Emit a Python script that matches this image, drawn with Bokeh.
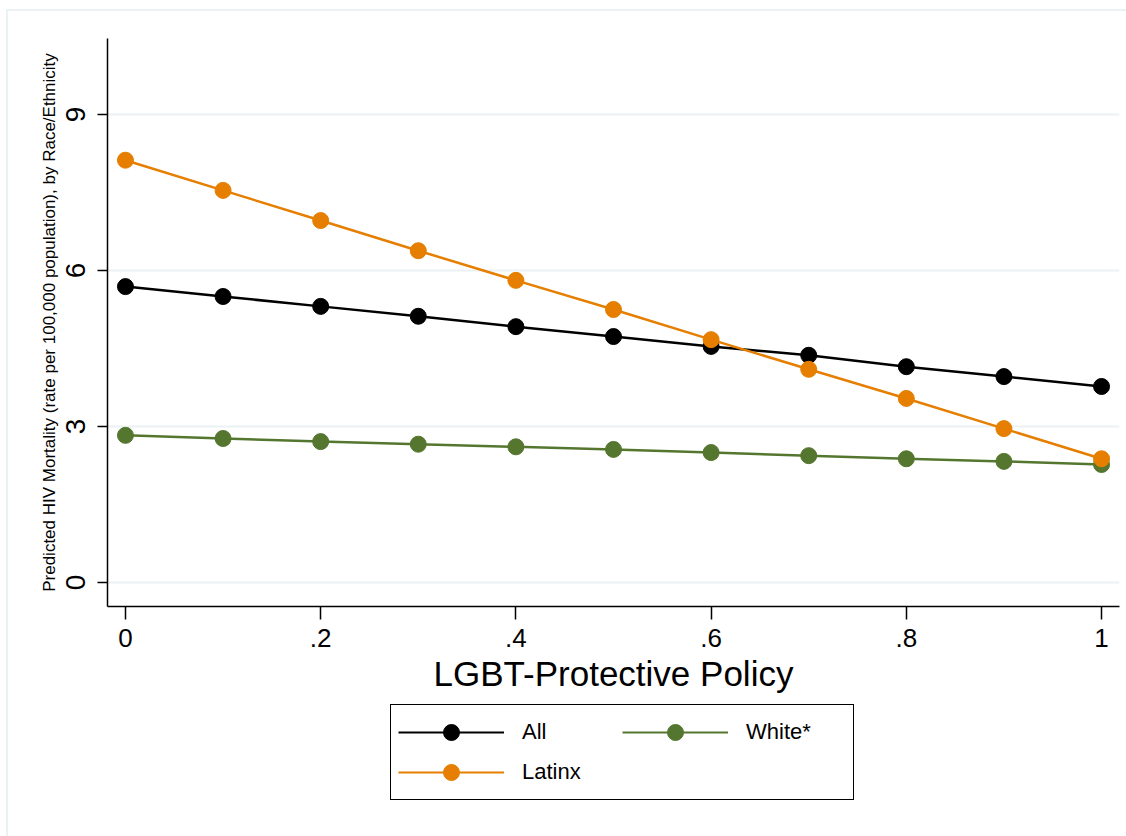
from bokeh.plotting import figure
from bokeh.layouts import column
from bokeh.models import Legend, LegendItem, FixedTicker, ColumnDataSource
from bokeh.embed import file_html
from bokeh.resources import INLINE

# ---- data ----
policy = [0.0, 0.1, 0.2, 0.3, 0.4, 0.5, 0.6, 0.7, 0.8, 0.9, 1.0]
all_vals = [5.69, 5.50, 5.31, 5.12, 4.92, 4.73, 4.54, 4.37, 4.15, 3.96, 3.77]
white_vals = [2.83, 2.77, 2.71, 2.66, 2.61, 2.56, 2.50, 2.44, 2.38, 2.33, 2.27]
latinx_vals = [8.12, 7.54, 6.96, 6.38, 5.81, 5.25, 4.67, 4.10, 3.54, 2.96, 2.38]
series_names = ["All", "White*", "Latinx"]
x_ticks = [0, 0.2, 0.4, 0.6, 0.8, 1.0]
x_tick_labels = ["0", ".2", ".4", ".6", ".8", "1"]
y_ticks = [0, 3, 6, 9]
y_tick_labels = ["0", "3", "6", "9"]
x_title = "LGBT-Protective Policy"
y_title = "Predicted HIV Mortality (rate per 100,000 population), by Race/Ethnicity"

FONT = "Liberation Sans"
colors = {"All": "#000000", "White*": "#55762f", "Latinx": "#e67e00"}
series = {"All": all_vals, "White*": white_vals, "Latinx": latinx_vals}

# ---- main plot ----
p = figure(width=1118, height=689, output_backend="svg", toolbar_location=None,
           x_range=(-0.0184, 1.0184), y_range=(-0.46, 10.46),
           min_border_left=99, min_border_top=27, min_border_right=7, min_border_bottom=94)
p.outline_line_color = None
p.background_fill_color = "white"
p.border_fill_color = "white"

p.xgrid.grid_line_color = None
p.ygrid.grid_line_color = "#eaf2f3"
p.ygrid.grid_line_width = 2
p.ygrid.ticker = FixedTicker(ticks=y_ticks)

p.xaxis.ticker = FixedTicker(ticks=x_ticks)
p.xaxis.major_label_overrides = dict(zip(x_ticks, x_tick_labels))
p.yaxis.ticker = FixedTicker(ticks=y_ticks)
p.yaxis.major_label_overrides = dict(zip(y_ticks, y_tick_labels))

for ax in (p.xaxis[0], p.yaxis[0]):
    ax.axis_line_color = "black"
    ax.axis_line_width = 1.5
    ax.major_tick_line_color = "black"
    ax.major_tick_line_width = 1.5
    ax.major_tick_in = 0
    ax.minor_tick_line_color = None
    ax.major_label_text_font = FONT
    ax.axis_label_text_font = FONT
    ax.axis_label_text_font_style = "normal"
    ax.major_label_text_color = "black"
    ax.axis_label_text_color = "black"

p.xaxis.major_tick_out = 13
p.xaxis.major_label_text_font_size = "26px"
p.xaxis.major_label_standoff = 9
p.xaxis.axis_label = x_title
p.xaxis.axis_label_text_font_size = "35px"
p.xaxis.axis_label_standoff = 4

p.yaxis.major_tick_out = 10
p.yaxis.major_label_orientation = "vertical"
p.yaxis.major_label_text_font_size = "28px"
p.yaxis.major_label_standoff = 12
p.yaxis.axis_label = y_title
p.yaxis.axis_label_text_font_size = "17px"
p.yaxis.axis_label_standoff = 5

for name in series_names:
    src = ColumnDataSource(dict(x=policy, y=series[name]))
    p.line("x", "y", source=src, line_color=colors[name], line_width=2.5)
    p.scatter("x", "y", source=src, size=16, marker="circle",
              fill_color=colors[name], line_color=colors[name])

# ---- legend strip below (its renderers use the same data, kept out of view) ----
pl = figure(width=1118, height=136, output_backend="svg", toolbar_location=None,
            x_range=(0, 1), y_range=(100, 101), x_axis_location=None, y_axis_location=None,
            min_border_left=0, min_border_right=0, min_border_top=0, min_border_bottom=0)
pl.outline_line_color = None
pl.xgrid.grid_line_color = None
pl.ygrid.grid_line_color = None
pl.border_fill_color = "white"
pl.background_fill_color = "white"

items = []
for name in series_names:
    ksrc = ColumnDataSource(dict(x=policy, y=series[name]))
    r_line = pl.line("x", "y", source=ksrc, line_color=colors[name], line_width=2.2)
    r_pts = pl.scatter("x", "y", source=ksrc, marker="circle", size=16,
                       fill_color=colors[name], line_color=colors[name])
    items.append(LegendItem(label=name, renderers=[r_line, r_pts]))

legend = Legend(items=items, orientation="horizontal", ncols=2, location=(283, 36),
                glyph_width=106, glyph_height=40, label_standoff=18, spacing=0,
                label_width=100, padding=7, margin=0,
                label_text_font=FONT, label_text_font_size="22px", label_text_color="black",
                border_line_color="black", border_line_width=1.5, border_line_alpha=1.0,
                background_fill_color="white", background_fill_alpha=1.0)
pl.add_layout(legend, "center")

layout = column(p, pl, spacing=0)
layout.styles = {"margin-top": "9px", "margin-left": "6px",
                 "border-top": "2px solid #eaf2f3", "border-left": "2px solid #eaf2f3"}

open("out.html", "w").write(file_html(layout, INLINE))
